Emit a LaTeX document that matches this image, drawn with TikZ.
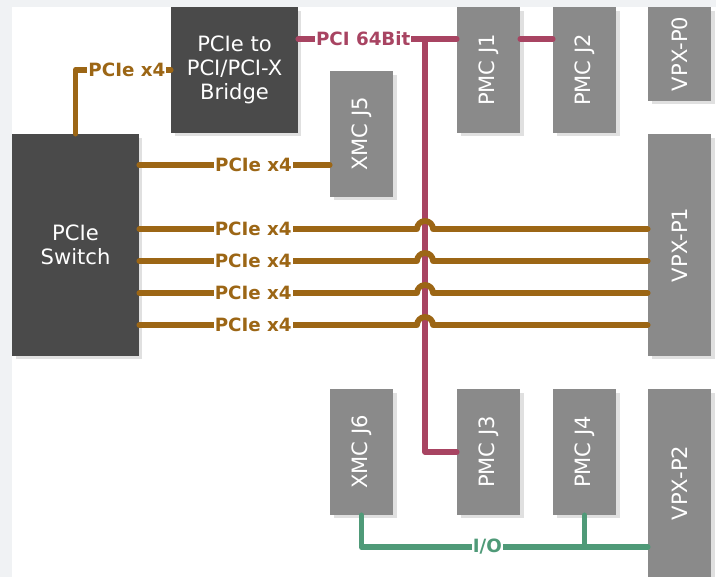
\documentclass[tikz,border=0pt]{standalone}
\usepackage{fontspec}
\setmainfont{DejaVu Sans}
\usepackage{tikz}
\usetikzlibrary{calc,shadows}
\definecolor{cBack}{HTML}{F0F2F4}
\definecolor{cDark}{HTML}{4A4A4A}
\definecolor{cSlot}{HTML}{8A8A8A}
\definecolor{cPcie}{HTML}{9C6615}
\definecolor{cPci}{HTML}{A84462}
\definecolor{cIO}{HTML}{4F9A78}
\tikzset{
  chip/.style={rectangle, fill=cDark, text=white, align=center, inner sep=0pt,
    font=\fontsize{12}{13.8}\selectfont,
    drop shadow={shadow xshift=0.07cm, shadow yshift=-0.07cm, fill=black!12, opacity=1}},
  slot/.style={chip, fill=cSlot, minimum width=1.26cm, minimum height=2.52cm},
  bus/.style ={line width=3.3pt, line cap=round, line join=round},
  pcie/.style={bus, draw=cPcie},
  pci/.style ={bus, draw=cPci},
  io/.style  ={bus, draw=cIO},
  lab/.style ={fill=white, inner sep=0.6pt, font=\bfseries\fontsize{10.4}{12}\selectfont},
}
\begin{document}
\begin{tikzpicture}[x=0.02cm, y=-0.02cm]
  \useasboundingbox (0,0) rectangle (716,577);
  \fill[cBack] (0,0) rectangle (716,577);
  \fill[white] (12,7) rectangle (716,577);
  \node[chip, minimum width=2.54cm, minimum height=2.52cm] (br) at (234.5,70) {PCIe to\\PCI/PCI-X\\Bridge};
  \node[chip, minimum width=2.54cm, minimum height=4.44cm] (sw) at (75.5,245) {PCIe\\Switch};
  \node[slot] (x5) at (361.5,134) {\rotatebox{90}{XMC J5}};
  \node[slot] (j1) at (488.5,70) {\rotatebox{90}{PMC J1}};
  \node[slot] (j2) at (584.5,70) {\rotatebox{90}{PMC J2}};
  \node[slot, minimum height=1.88cm] (p0) at (679.5,54) {\rotatebox{90}{VPX-P0}};
  \node[slot, minimum height=4.44cm] (p1) at (679.5,245) {\rotatebox{90}{VPX-P1}};
  \node[slot] (x6) at (361.5,452) {\rotatebox{90}{XMC J6}};
  \node[slot] (j3) at (488.5,452) {\rotatebox{90}{PMC J3}};
  \node[slot] (j4) at (584.5,452) {\rotatebox{90}{PMC J4}};
  \node[slot, minimum height=3.76cm] (p2) at (679.5,483) {\rotatebox{90}{VPX-P2}};
  \draw[pcie] (sw.north) |- node[lab, text=cPcie, pos=0.77] {PCIe x4} (br.west);
  \coordinate (pcib) at ([yshift=0.62cm]br.east);
  \coordinate (tap) at (pcib -| 425,0);
  \draw[pci] (pcib) -- node[lab, text=cPci, pos=0.41] {PCI 64Bit} (pcib -| j1.west);
  \draw[pci] (pcib -| j1.east) -- (pcib -| j2.west);
  \draw[pci] (tap) |- (j3.west);
  \coordinate (x5in) at ([yshift=-0.62cm]x5.west);
  \draw[pcie] (sw.east |- x5in) -- node[lab, text=cPcie, pos=0.6] {PCIe x4} (x5in);
  \foreach \y in {229,261,293,325}
    \draw[pcie] (sw.east |- 0,\y) -- node[lab, text=cPcie, pos=0.41] {PCIe x4}
      ($(tap |- 0,\y)+(-0.16cm,0)$) arc[start angle=180, end angle=0, radius=0.16cm]
      -- (p1.west |- 0,\y);
  \draw[io] (x6.south) |- node[lab, text=cIO, pos=0.72] {I/O} (p2.west |- 0,547);
  \draw[io] (j4.south) -- (j4.south |- 0,547);
\end{tikzpicture}
\end{document}
